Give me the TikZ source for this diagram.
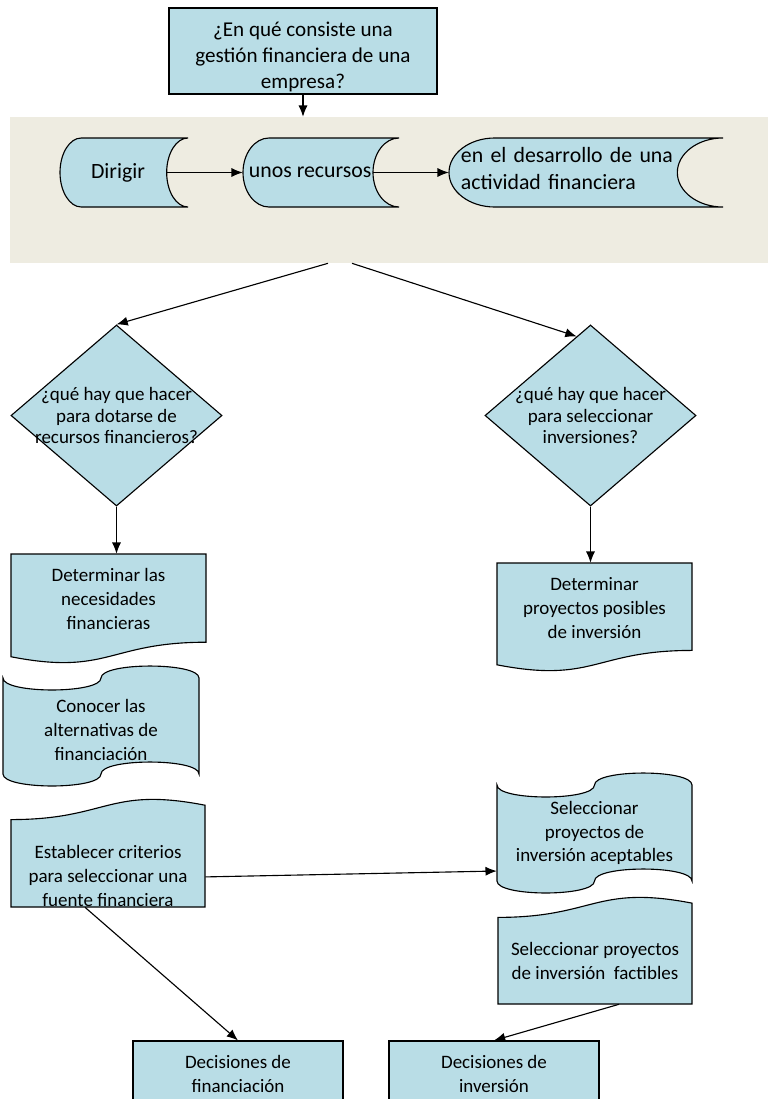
\documentclass[tikz,border=0pt]{standalone}
\usepackage{fontspec}
\setmainfont{Carlito}
\usepackage{tikz}
\usetikzlibrary{shapes.geometric}
\usetikzlibrary{arrows.meta}

\definecolor{celeste}{RGB}{185,221,230}
\definecolor{arena}{RGB}{238,236,225}

\tikzset{
  caja/.style={draw=black, fill=celeste, line width=0.8pt},
  marco/.style={draw=none, inner sep=0pt, rectangle},
  texto/.style={align=center, inner sep=0pt, font=\fontsize{13.5}{17}\selectfont},
  grande/.style={font=\fontsize{15.5}{19}\selectfont},
  rombotexto/.style={texto, font=\fontsize{13.5}{15}\selectfont},
  rombo/.style={caja, diamond, inner sep=0pt, minimum width=5.275cm, minimum height=4.525cm},
  flecha/.style={-{Latex[length=8pt,width=6.5pt]}, line width=0.8pt}
}

\newcommand{\almacen}[7][]{%
  \filldraw[caja, shift={(#3,#4)}, x=#5*0.025cm, y=-#6*0.025cm]
    (1/6,0) -- (1,0) .. controls (0.908,0) and (5/6,0.224) .. (5/6,0.5)
    .. controls (5/6,0.776) and (0.908,1) .. (1,1) -- (1/6,1)
    .. controls (0.075,1) and (0,0.776) .. (0,0.5)
    .. controls (0,0.224) and (0.075,0) .. cycle;
  \node[marco, minimum width=#5*0.025cm, minimum height=#6*0.025cm,
    label={[texto,grande,#1]center:#7}] (#2) at ({#3+#5/2},{#4+#6/2}) {};
}
\newcommand{\documento}[7][]{%
  \filldraw[caja, shift={(#3,#4)}, x=#5*0.025cm, y=-#6*0.025cm]
    (0,0) -- (1,0) -- (1,0.802) .. controls (0.5,0.802) and (0.5,1.1075) .. (0,0.934) -- cycle;
  \node[marco, minimum width=#5*0.025cm, minimum height=#6*0.025cm,
    label={[texto,#1]center:#7}] (#2) at ({#3+#5/2},{#4+#6/2}) {};
}
\newcommand{\documentoinv}[7][]{%
  \filldraw[caja, shift={(#3,#4)}, x=#5*0.025cm, y=-#6*0.025cm]
    (1,1) -- (0,1) -- (0,0.198) .. controls (0.5,0.198) and (0.5,-0.1075) .. (1,0.066) -- cycle;
  \node[marco, minimum width=#5*0.025cm, minimum height=#6*0.025cm,
    label={[texto,#1]center:#7}] (#2) at ({#3+#5/2},{#4+#6/2}) {};
}
\newcommand{\cinta}[7][]{%
  \filldraw[caja, shift={(#3,#4)}, x=#5*0.025cm, y=-#6*0.025cm]
    (0,0.1) .. controls (0,0.233) and (0.5,0.233) .. (0.5,0.1)
    .. controls (0.5,-0.033) and (1,-0.033) .. (1,0.1) -- (1,0.9)
    .. controls (1,0.767) and (0.5,0.767) .. (0.5,0.9)
    .. controls (0.5,1.033) and (0,1.033) .. (0,0.9) -- cycle;
  \node[marco, minimum width=#5*0.025cm, minimum height=#6*0.025cm,
    label={[texto,#1]center:#7}] (#2) at ({#3+#5/2},{#4+#6/2}) {};
}

\begin{document}
\begin{tikzpicture}[x=0.025cm, y=-0.025cm]
\useasboundingbox (0,0) rectangle (768,1099);
\node[marco, fill=arena, minimum width=18.95cm, minimum height=3.65cm] (banda) at (389,190) {};
\node[caja, rectangle, inner sep=0pt, minimum width=6.7cm, minimum height=2.15cm,
  label={[texto, font=\fontsize{15}{18.5}\selectfont, yshift=-0.15cm]center:¿En qué consiste una\\gestión financiera de una\\empresa?}] (pregunta) at (303,51) {};
\draw[flecha] (pregunta.south) -- (pregunta.south |- banda.north);

\almacen[xshift=-0.15cm]{dirigir}{60}{138}{128}{69}{Dirigir}
\almacen[xshift=-0.27cm]{recursos}{243}{138}{156}{69}{unos recursos}
\almacen[text width=6.25cm, align=left, yshift=0.1cm]{desarrollo}{449}{138}{274}{69}{en el desarrollo de una\\actividad financiera}
\draw[flecha] ([xshift=-0.533cm]dirigir.east) -- (recursos.west);
\draw[flecha] ([xshift=-0.65cm]recursos.east) -- (desarrollo.west);

\node[rombo, label={[rombotexto]center:¿qué hay que hacer\\para dotarse de\\recursos financieros?}] (dotarse) at (116.5,415.5) {};
\node[rombo, label={[rombotexto]center:¿qué hay que hacer\\para seleccionar\\inversiones?}] (seleccionar) at (590.5,415.5) {};
\draw[flecha] ([xshift=-1.525cm]banda.south) -- (dotarse.north);
\draw[flecha] ([xshift=-0.925cm]banda.south) -- (seleccionar.100);

\documento[yshift=0.25cm]{necesidades}{11}{554}{195}{110}{Determinar las\\necesidades\\financieras}
\documento[yshift=0.24cm]{proyectos}{497}{563}{195}{109}{Determinar\\proyectos posibles\\de inversión}
\cinta[yshift=-0.1cm]{alternativas}{3}{666}{196}{120}{Conocer las\\alternativas de\\financiación}
\documentoinv[yshift=-0.59cm]{criterios}{11}{798}{194}{109}{Establecer criterios\\para seleccionar una\\fuente financiera}
\cinta{aceptables}{497}{773}{195}{120}{Seleccionar\\proyectos de\\inversión aceptables}
\documentoinv[yshift=-0.275cm]{factibles}{498}{896}{194}{108}{Seleccionar proyectos\\de inversión\ \ factibles}
\draw[flecha] (dotarse.south) -- (dotarse.south |- necesidades.north);
\draw[flecha] (seleccionar.south) -- (seleccionar.south |- proyectos.north);

\node[caja, texto, minimum width=5.25cm, minimum height=1.65cm] (financiacion) at (238,1074) {Decisiones de\\financiación};
\node[caja, texto, minimum width=5.25cm, minimum height=1.65cm] (inversion) at (494,1074) {Decisiones de\\inversión};
\draw[flecha] ([yshift=-0.61cm]criterios.east) -- ([yshift=-0.95cm]aceptables.west);
\draw[flecha] ([xshift=-0.575cm]criterios.south) -- (financiacion.north);
\draw[flecha] ([xshift=0.6cm]factibles.south) -- (inversion.north);
\end{tikzpicture}
\end{document}
